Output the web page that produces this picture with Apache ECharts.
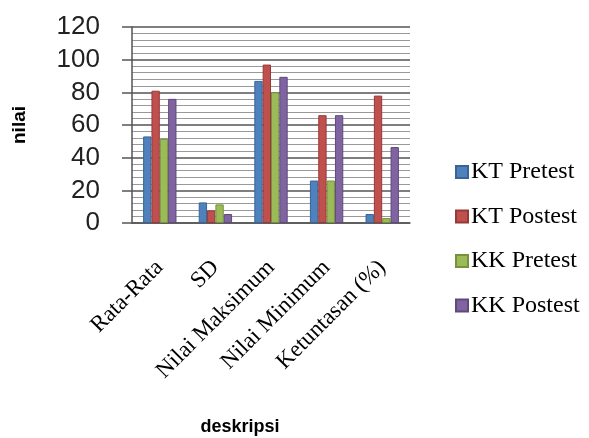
<!DOCTYPE html>
<html><head><meta charset="utf-8">
<script src="https://cdn.jsdelivr.net/npm/echarts@6/dist/echarts.min.js"></script>
<style>html,body{margin:0;padding:0;background:#fff}#c{width:589px;height:438px}</style>
</head><body><div id="c"></div>
<script>
const categories = ['Rata-Rata','SD','Nilai Maksimum','Nilai Minimum','Ketuntasan (%)'];
const ktPretest  = [53, 12.6, 87, 26, 5.5];
const ktPostest  = [81, 7.7, 97, 66, 78];
const kkPretest  = [51.5, 11.4, 80, 26, 3];
const kkPostest  = [76, 5.5, 89.5, 66, 46.5];
const seriesNames = ['KT Pretest','KT Postest','KK Pretest','KK Postest'];
const colors = ['#4F81BD','#C0504D','#9BBB59','#8064A2'];
const borders = ['#3A6496','#943B39','#76923C','#5F4A7A'];
const values = [ktPretest, ktPostest, kkPretest, kkPostest];

const chart = echarts.init(document.getElementById('c'));
chart.setOption({
  animation:false,
  grid:{left:132,right:179,top:27,bottom:215,outerBoundsMode:'none',containLabel:false},
  legend:{
    orient:'vertical', left:450, top:155, itemGap:20.5,
    itemWidth:12, itemHeight:12, icon:'rect',
    textStyle:{fontFamily:'Liberation Serif', fontSize:24, color:'#000', padding:[0,0,0,-2]},
    data:seriesNames
  },
  xAxis:{
    type:'category', data:categories,
    name:'deskripsi', nameLocation:'middle', nameGap:195,
    nameTextStyle:{fontFamily:'Liberation Sans', fontWeight:'bold', fontSize:18, color:'#000', padding:[0,62,0,0]},
    axisLine:{lineStyle:{color:'#555', width:1.5}},
    axisTick:{show:false},
    axisLabel:{rotate:45, margin:41, fontFamily:'Liberation Serif', fontSize:23, color:'#000', interval:0}
  },
  yAxis:{
    type:'value', min:0, max:120, interval:20,
    name:'nilai', nameLocation:'middle', nameGap:103, nameRotate:90,
    nameTextStyle:{fontFamily:'Liberation Sans', fontWeight:'bold', fontSize:19, color:'#000'},
    axisLine:{show:true, lineStyle:{color:'#555', width:1.5}},
    axisTick:{show:true, length:10, lineStyle:{color:'#555', width:1.5}},
    axisLabel:{margin:32, fontFamily:'Liberation Sans', fontSize:26, color:'#222'},
    splitLine:{show:true, lineStyle:{color:'#555', width:1.5}},
    minorTick:{show:false, splitNumber:5},
    minorSplitLine:{show:true, lineStyle:{color:'#999', width:1}}
  },
  series: values.map((v,i)=>({
    name:seriesNames[i], type:'bar', data:v,
    barGap:'0%', barCategoryGap:'40%',
    itemStyle:{color:colors[i], borderColor:borders[i], borderWidth:1}
  }))
});
</script></body></html>
